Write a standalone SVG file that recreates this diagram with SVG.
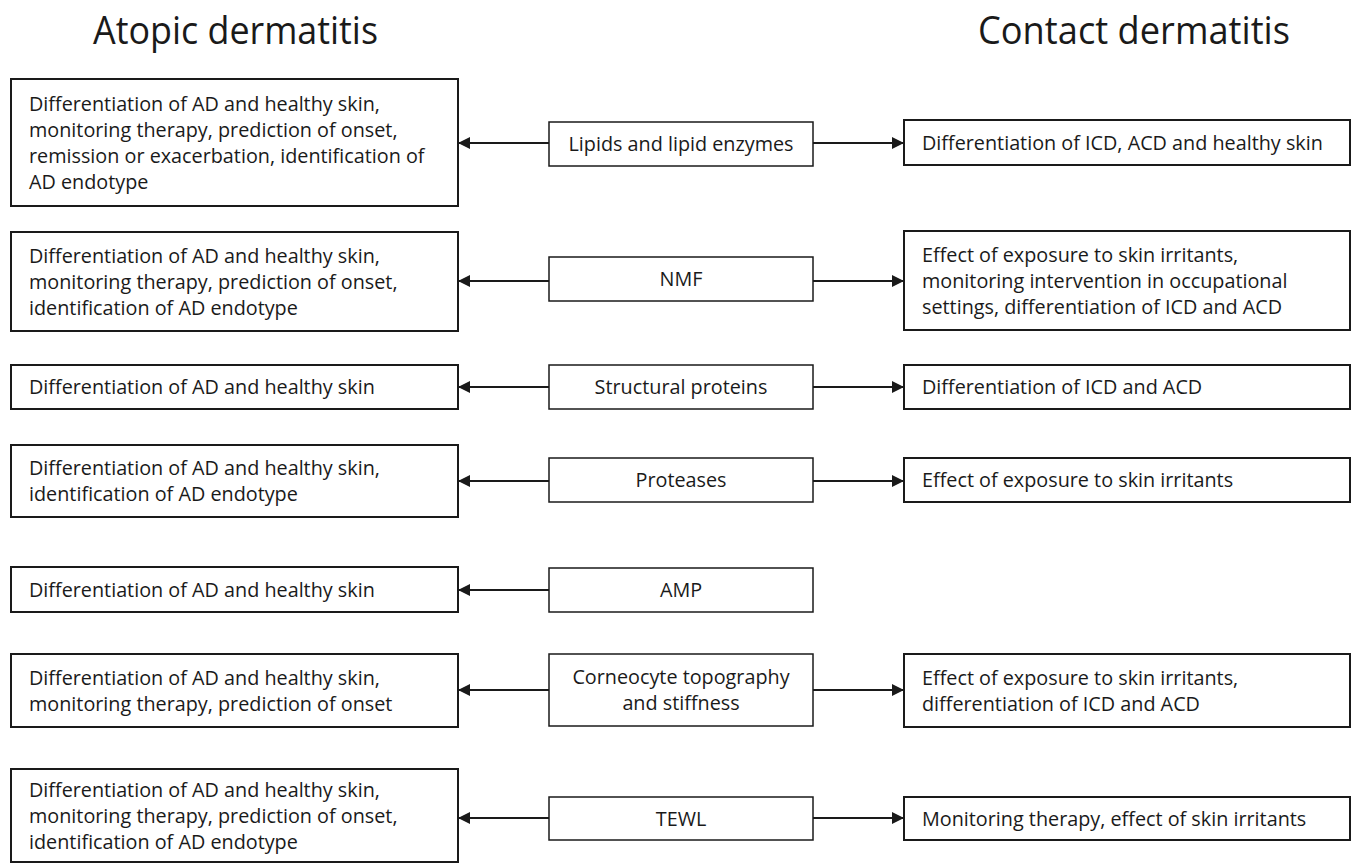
<svg xmlns="http://www.w3.org/2000/svg" width="1354" height="864" viewBox="0 0 1354 864">
<style>
.bx{fill:#fff;stroke:#1a1a1a;stroke-width:2}
.mb{fill:#fff;stroke:#1a1a1a;stroke-width:1.5}
.t{font-family:"Open Sans","Liberation Sans",sans-serif;font-size:19.8px;fill:#1a1a1a}
.c{text-anchor:middle}
.h{font-family:"Open Sans","Liberation Sans",sans-serif;font-size:38px;fill:#1a1a1a}
.ln{stroke:#1a1a1a;stroke-width:2;fill:none;marker-end:url(#ah)}
</style>
<defs>
<marker id="ah" markerUnits="userSpaceOnUse" markerWidth="13" markerHeight="13" refX="12" refY="6" orient="auto">
<path d="M0,0 L12,6 L0,12 z" fill="#1a1a1a"/>
</marker>
</defs>
<rect width="1354" height="864" fill="#fff"/>
<g id="headers">
<text class="h" x="93" y="44" textLength="285" lengthAdjust="spacingAndGlyphs">Atopic dermatitis</text>
<text class="h" x="978" y="44" textLength="312" lengthAdjust="spacingAndGlyphs">Contact dermatitis</text>
</g>
<g id="connectors">
<line class="ln" x1="549" y1="143" x2="458" y2="143"/>
<line class="ln" x1="813" y1="143" x2="904" y2="143"/>
<line class="ln" x1="549" y1="281" x2="458" y2="281"/>
<line class="ln" x1="813" y1="281" x2="904" y2="281"/>
<line class="ln" x1="549" y1="387" x2="458" y2="387"/>
<line class="ln" x1="813" y1="387" x2="904" y2="387"/>
<line class="ln" x1="549" y1="481" x2="458" y2="481"/>
<line class="ln" x1="813" y1="481" x2="904" y2="481"/>
<line class="ln" x1="549" y1="590" x2="458" y2="590"/>
<line class="ln" x1="549" y1="690" x2="458" y2="690"/>
<line class="ln" x1="813" y1="690" x2="904" y2="690"/>
<line class="ln" x1="549" y1="818" x2="458" y2="818"/>
<line class="ln" x1="813" y1="818" x2="904" y2="818"/>
</g>
<g id="ad-lipids"><rect class="bx" x="11" y="79" width="447" height="127"/>
<text class="t" x="29" y="110.5">Differentiation of AD and healthy skin,</text>
<text class="t" x="29" y="136.5">monitoring therapy, prediction of onset,</text>
<text class="t" x="29" y="162.5">remission or exacerbation, identification of</text>
<text class="t" x="29" y="188.5">AD endotype</text></g>
<g id="lipids"><rect class="mb" x="549" y="122" width="264" height="44"/>
<text class="t c" x="681" y="151">Lipids and lipid enzymes</text></g>
<g id="cd-lipids"><rect class="bx" x="904" y="120" width="446" height="45"/>
<text class="t" x="922" y="149.5">Differentiation of ICD, ACD and healthy skin</text></g>

<g id="ad-nmf"><rect class="bx" x="11" y="232" width="447" height="99"/>
<text class="t" x="29" y="262.5">Differentiation of AD and healthy skin,</text>
<text class="t" x="29" y="288.5">monitoring therapy, prediction of onset,</text>
<text class="t" x="29" y="314.5">identification of AD endotype</text></g>
<g id="nmf"><rect class="mb" x="549" y="257" width="264" height="44"/>
<text class="t c" x="681" y="286">NMF</text></g>
<g id="cd-nmf"><rect class="bx" x="904" y="231" width="446" height="99"/>
<text class="t" x="922" y="261.5">Effect of exposure to skin irritants,</text>
<text class="t" x="922" y="287.5">monitoring intervention in occupational</text>
<text class="t" x="922" y="313.5">settings, differentiation of ICD and ACD</text></g>

<g id="ad-struct"><rect class="bx" x="11" y="365" width="447" height="44"/>
<text class="t" x="29" y="394">Differentiation of AD and healthy skin</text></g>
<g id="struct"><rect class="mb" x="549" y="365" width="264" height="44"/>
<text class="t c" x="681" y="394">Structural proteins</text></g>
<g id="cd-struct"><rect class="bx" x="904" y="365" width="446" height="44"/>
<text class="t" x="922" y="394">Differentiation of ICD and ACD</text></g>

<g id="ad-prot"><rect class="bx" x="11" y="445" width="447" height="72"/>
<text class="t" x="29" y="475">Differentiation of AD and healthy skin,</text>
<text class="t" x="29" y="501">identification of AD endotype</text></g>
<g id="prot"><rect class="mb" x="549" y="458" width="264" height="44"/>
<text class="t c" x="681" y="487">Proteases</text></g>
<g id="cd-prot"><rect class="bx" x="904" y="458" width="446" height="44"/>
<text class="t" x="922" y="487">Effect of exposure to skin irritants</text></g>

<g id="ad-amp"><rect class="bx" x="11" y="567" width="447" height="45"/>
<text class="t" x="29" y="597">Differentiation of AD and healthy skin</text></g>
<g id="amp"><rect class="mb" x="549" y="568" width="264" height="44"/>
<text class="t c" x="681" y="597">AMP</text></g>

<g id="ad-corneo"><rect class="bx" x="11" y="654" width="447" height="73"/>
<text class="t" x="29" y="684.5">Differentiation of AD and healthy skin,</text>
<text class="t" x="29" y="710.5">monitoring therapy, prediction of onset</text></g>
<g id="corneo"><rect class="mb" x="549" y="654" width="264" height="72"/>
<text class="t c" x="681" y="684">Corneocyte topography</text>
<text class="t c" x="681" y="710">and stiffness</text></g>
<g id="cd-corneo"><rect class="bx" x="904" y="654" width="446" height="73"/>
<text class="t" x="922" y="684.5">Effect of exposure to skin irritants,</text>
<text class="t" x="922" y="710.5">differentiation of ICD and ACD</text></g>

<g id="ad-tewl"><rect class="bx" x="11" y="769" width="447" height="93"/>
<text class="t" x="29" y="796.5">Differentiation of AD and healthy skin,</text>
<text class="t" x="29" y="822.5">monitoring therapy, prediction of onset,</text>
<text class="t" x="29" y="848.5">identification of AD endotype</text></g>
<g id="tewl"><rect class="mb" x="549" y="797" width="264" height="43"/>
<text class="t c" x="681" y="825.5">TEWL</text></g>
<g id="cd-tewl"><rect class="bx" x="904" y="797" width="446" height="43"/>
<text class="t" x="922" y="825.5">Monitoring therapy, effect of skin irritants</text></g>
</svg>
